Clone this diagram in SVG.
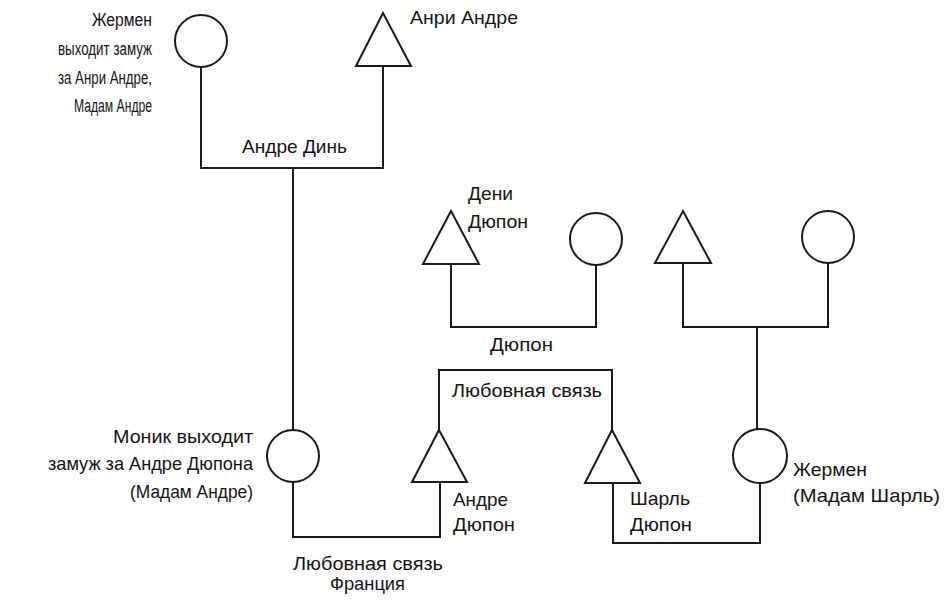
<svg xmlns="http://www.w3.org/2000/svg" width="948" height="602" viewBox="0 0 948 602">
  <style>
    .sym { fill: #ffffff; stroke: #1a1a1a; stroke-width: 2; stroke-linejoin: miter; }
    .link { fill: none; stroke: #1a1a1a; stroke-width: 2; stroke-linejoin: miter; }
    text { font-family: "Liberation Sans", Arial, sans-serif; font-size: 19px; fill: #141414; }
    .end { text-anchor: end; }
    .small { font-size: 17.5px; }
  </style>
  <rect width="948" height="602" fill="#ffffff"/>

  <!-- connectors: marriage and liaison lines -->
  <g id="connectors">
    <path class="link" d="M201,67 V168 H383 V66"/>
    <path class="link" d="M293,168 V430"/>
    <path class="link" d="M451,264 V327 H596 V265"/>
    <path class="link" d="M683,263 V327 H828 V263"/>
    <path class="link" d="M757,327 V430"/>
    <path class="link" d="M293,482 V537 H440 V482"/>
    <path class="link" d="M439,430 V370 H612 V430"/>
    <path class="link" d="M613,483 V543 H760 V483"/>
  </g>

  <g id="germaine-top">
    <circle class="sym" cx="201" cy="41" r="26"/>
    <text class="end small" x="152" y="26" textLength="60" lengthAdjust="spacingAndGlyphs">Жермен</text>
    <text class="end small" x="152" y="55" textLength="94" lengthAdjust="spacingAndGlyphs">выходит замуж</text>
    <text class="end small" x="152" y="84" textLength="94" lengthAdjust="spacingAndGlyphs">за Анри Андре,</text>
    <text class="end small" x="152" y="112" textLength="78" lengthAdjust="spacingAndGlyphs">Мадам Андре</text>
  </g>

  <g id="henri-andre">
    <polygon class="sym" points="383,13 411,66 356,66"/>
    <text x="410" y="24" textLength="108" lengthAdjust="spacingAndGlyphs">Анри Андре</text>
  </g>

  <g id="andre-din-label">
    <text x="242" y="153" textLength="105" lengthAdjust="spacingAndGlyphs">Андре Динь</text>
  </g>

  <g id="denis-dupont">
    <polygon class="sym" points="451,211 479,264 423,264"/>
    <text x="468" y="200" textLength="45" lengthAdjust="spacingAndGlyphs">Дени</text>
    <text x="468" y="228" textLength="60" lengthAdjust="spacingAndGlyphs">Дюпон</text>
  </g>

  <g id="dupont-wife">
    <circle class="sym" cx="596" cy="239" r="26"/>
  </g>

  <g id="dupont-label">
    <text x="490" y="351" textLength="63" lengthAdjust="spacingAndGlyphs">Дюпон</text>
  </g>

  <g id="germaine-father">
    <polygon class="sym" points="683,211 711,263 655,263"/>
  </g>

  <g id="germaine-mother">
    <circle class="sym" cx="828" cy="237" r="26"/>
  </g>

  <g id="monique">
    <circle class="sym" cx="293" cy="456" r="26"/>
    <text class="end" x="253" y="443" textLength="140" lengthAdjust="spacingAndGlyphs">Моник выходит</text>
    <text class="end" x="253" y="470" textLength="205" lengthAdjust="spacingAndGlyphs">замуж за Андре Дюпона</text>
    <text class="end" x="253" y="498" textLength="123" lengthAdjust="spacingAndGlyphs">(Мадам Андре)</text>
  </g>

  <g id="andre-dupont">
    <polygon class="sym" points="439,430 467,482 412,482"/>
    <text x="453" y="506" textLength="55" lengthAdjust="spacingAndGlyphs">Андре</text>
    <text x="453" y="531" textLength="62" lengthAdjust="spacingAndGlyphs">Дюпон</text>
  </g>

  <g id="affair-top">
    <text x="452" y="397" textLength="150" lengthAdjust="spacingAndGlyphs">Любовная связь</text>
  </g>

  <g id="charles-dupont">
    <polygon class="sym" points="612,430 640,483 585,483"/>
    <text x="630" y="505" textLength="60" lengthAdjust="spacingAndGlyphs">Шарль</text>
    <text x="630" y="531" textLength="62" lengthAdjust="spacingAndGlyphs">Дюпон</text>
  </g>

  <g id="germaine-charles">
    <circle class="sym" cx="760" cy="456" r="27"/>
    <text x="793" y="476" textLength="74" lengthAdjust="spacingAndGlyphs">Жермен</text>
    <text x="793" y="502" textLength="147" lengthAdjust="spacingAndGlyphs">(Мадам Шарль)</text>
  </g>

  <g id="affair-france">
    <text x="293" y="570" textLength="150" lengthAdjust="spacingAndGlyphs">Любовная связь</text>
    <text x="330" y="590" textLength="75" lengthAdjust="spacingAndGlyphs">Франция</text>
  </g>
</svg>
